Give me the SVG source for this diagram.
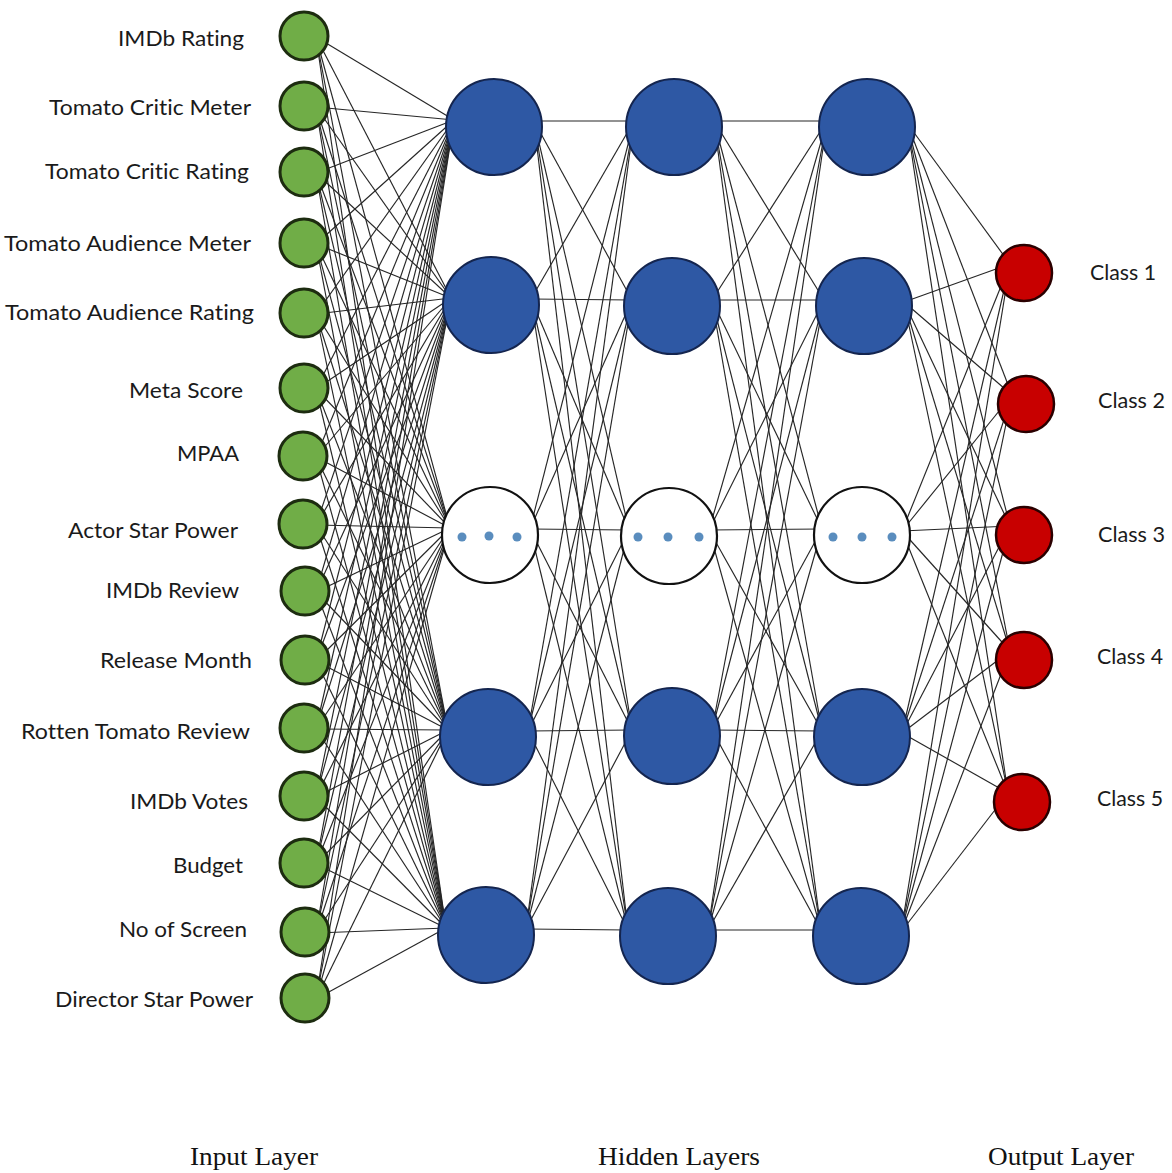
<svg xmlns="http://www.w3.org/2000/svg" width="1172" height="1173" viewBox="0 0 1172 1173">
<style>
.c{stroke:#262626;stroke-width:1.15;fill:none}
.in{fill:#70ad47;stroke:#1d2c10;stroke-width:3}
.hid{fill:#2e58a4;stroke:#14254f;stroke-width:2}
.emp{fill:#ffffff;stroke:#111111;stroke-width:2.2}
.dot{fill:#5a8dbe}
.out{fill:#c80000;stroke:#2a0000;stroke-width:2.5}
.lbl{font-family:Lato,"Open Sans","Liberation Sans",sans-serif;font-size:22px;fill:#1a1a1a;text-anchor:end;font-variant-ligatures:none}
.cls{font-family:Lato,"Open Sans","Liberation Sans",sans-serif;font-size:21px;fill:#1a1a1a}
.cap{font-family:"Liberation Serif","Times New Roman",serif;font-size:26px;fill:#111;text-anchor:middle}
</style>
<rect width="1172" height="1173" fill="#ffffff"/>
<g id="connectors">
<line class="c" x1="316" y1="37" x2="454" y2="120"/><line class="c" x1="316" y1="37" x2="451" y2="298"/><line class="c" x1="316" y1="37" x2="450" y2="528"/><line class="c" x1="316" y1="37" x2="448" y2="730"/><line class="c" x1="316" y1="37" x2="446" y2="928"/>
<line class="c" x1="316" y1="107" x2="454" y2="120"/><line class="c" x1="316" y1="107" x2="451" y2="298"/><line class="c" x1="316" y1="107" x2="450" y2="528"/><line class="c" x1="316" y1="107" x2="448" y2="730"/><line class="c" x1="316" y1="107" x2="446" y2="928"/>
<line class="c" x1="316" y1="173" x2="454" y2="120"/><line class="c" x1="316" y1="173" x2="451" y2="298"/><line class="c" x1="316" y1="173" x2="450" y2="528"/><line class="c" x1="316" y1="173" x2="448" y2="730"/><line class="c" x1="316" y1="173" x2="446" y2="928"/>
<line class="c" x1="316" y1="244" x2="454" y2="120"/><line class="c" x1="316" y1="244" x2="451" y2="298"/><line class="c" x1="316" y1="244" x2="450" y2="528"/><line class="c" x1="316" y1="244" x2="448" y2="730"/><line class="c" x1="316" y1="244" x2="446" y2="928"/>
<line class="c" x1="316" y1="314" x2="454" y2="120"/><line class="c" x1="316" y1="314" x2="451" y2="298"/><line class="c" x1="316" y1="314" x2="450" y2="528"/><line class="c" x1="316" y1="314" x2="448" y2="730"/><line class="c" x1="316" y1="314" x2="446" y2="928"/>
<line class="c" x1="316" y1="389" x2="454" y2="120"/><line class="c" x1="316" y1="389" x2="451" y2="298"/><line class="c" x1="316" y1="389" x2="450" y2="528"/><line class="c" x1="316" y1="389" x2="448" y2="730"/><line class="c" x1="316" y1="389" x2="446" y2="928"/>
<line class="c" x1="316" y1="457" x2="454" y2="120"/><line class="c" x1="316" y1="457" x2="451" y2="298"/><line class="c" x1="316" y1="457" x2="450" y2="528"/><line class="c" x1="316" y1="457" x2="448" y2="730"/><line class="c" x1="316" y1="457" x2="446" y2="928"/>
<line class="c" x1="316" y1="525" x2="454" y2="120"/><line class="c" x1="316" y1="525" x2="451" y2="298"/><line class="c" x1="316" y1="525" x2="450" y2="528"/><line class="c" x1="316" y1="525" x2="448" y2="730"/><line class="c" x1="316" y1="525" x2="446" y2="928"/>
<line class="c" x1="316" y1="592" x2="454" y2="120"/><line class="c" x1="316" y1="592" x2="451" y2="298"/><line class="c" x1="316" y1="592" x2="450" y2="528"/><line class="c" x1="316" y1="592" x2="448" y2="730"/><line class="c" x1="316" y1="592" x2="446" y2="928"/>
<line class="c" x1="316" y1="661" x2="454" y2="120"/><line class="c" x1="316" y1="661" x2="451" y2="298"/><line class="c" x1="316" y1="661" x2="450" y2="528"/><line class="c" x1="316" y1="661" x2="448" y2="730"/><line class="c" x1="316" y1="661" x2="446" y2="928"/>
<line class="c" x1="316" y1="729" x2="454" y2="120"/><line class="c" x1="316" y1="729" x2="451" y2="298"/><line class="c" x1="316" y1="729" x2="450" y2="528"/><line class="c" x1="316" y1="729" x2="448" y2="730"/><line class="c" x1="316" y1="729" x2="446" y2="928"/>
<line class="c" x1="316" y1="797" x2="454" y2="120"/><line class="c" x1="316" y1="797" x2="451" y2="298"/><line class="c" x1="316" y1="797" x2="450" y2="528"/><line class="c" x1="316" y1="797" x2="448" y2="730"/><line class="c" x1="316" y1="797" x2="446" y2="928"/>
<line class="c" x1="316" y1="864" x2="454" y2="120"/><line class="c" x1="316" y1="864" x2="451" y2="298"/><line class="c" x1="316" y1="864" x2="450" y2="528"/><line class="c" x1="316" y1="864" x2="448" y2="730"/><line class="c" x1="316" y1="864" x2="446" y2="928"/>
<line class="c" x1="316" y1="933" x2="454" y2="120"/><line class="c" x1="316" y1="933" x2="451" y2="298"/><line class="c" x1="316" y1="933" x2="450" y2="528"/><line class="c" x1="316" y1="933" x2="448" y2="730"/><line class="c" x1="316" y1="933" x2="446" y2="928"/>
<line class="c" x1="316" y1="999" x2="454" y2="120"/><line class="c" x1="316" y1="999" x2="451" y2="298"/><line class="c" x1="316" y1="999" x2="450" y2="528"/><line class="c" x1="316" y1="999" x2="448" y2="730"/><line class="c" x1="316" y1="999" x2="446" y2="928"/>
<line class="c" x1="534" y1="121" x2="634" y2="121"/><line class="c" x1="534" y1="121" x2="632" y2="300"/><line class="c" x1="534" y1="121" x2="629" y2="530"/><line class="c" x1="534" y1="121" x2="632" y2="730"/><line class="c" x1="534" y1="121" x2="628" y2="930"/>
<line class="c" x1="531" y1="299" x2="634" y2="121"/><line class="c" x1="531" y1="299" x2="632" y2="300"/><line class="c" x1="531" y1="299" x2="629" y2="530"/><line class="c" x1="531" y1="299" x2="632" y2="730"/><line class="c" x1="531" y1="299" x2="628" y2="930"/>
<line class="c" x1="530" y1="529" x2="634" y2="121"/><line class="c" x1="530" y1="529" x2="632" y2="300"/><line class="c" x1="530" y1="529" x2="629" y2="530"/><line class="c" x1="530" y1="529" x2="632" y2="730"/><line class="c" x1="530" y1="529" x2="628" y2="930"/>
<line class="c" x1="528" y1="731" x2="634" y2="121"/><line class="c" x1="528" y1="731" x2="632" y2="300"/><line class="c" x1="528" y1="731" x2="629" y2="530"/><line class="c" x1="528" y1="731" x2="632" y2="730"/><line class="c" x1="528" y1="731" x2="628" y2="930"/>
<line class="c" x1="526" y1="929" x2="634" y2="121"/><line class="c" x1="526" y1="929" x2="632" y2="300"/><line class="c" x1="526" y1="929" x2="629" y2="530"/><line class="c" x1="526" y1="929" x2="632" y2="730"/><line class="c" x1="526" y1="929" x2="628" y2="930"/>
<line class="c" x1="714" y1="121" x2="827" y2="121"/><line class="c" x1="714" y1="121" x2="824" y2="300"/><line class="c" x1="714" y1="121" x2="822" y2="529"/><line class="c" x1="714" y1="121" x2="822" y2="731"/><line class="c" x1="714" y1="121" x2="821" y2="930"/>
<line class="c" x1="712" y1="300" x2="827" y2="121"/><line class="c" x1="712" y1="300" x2="824" y2="300"/><line class="c" x1="712" y1="300" x2="822" y2="529"/><line class="c" x1="712" y1="300" x2="822" y2="731"/><line class="c" x1="712" y1="300" x2="821" y2="930"/>
<line class="c" x1="709" y1="530" x2="827" y2="121"/><line class="c" x1="709" y1="530" x2="824" y2="300"/><line class="c" x1="709" y1="530" x2="822" y2="529"/><line class="c" x1="709" y1="530" x2="822" y2="731"/><line class="c" x1="709" y1="530" x2="821" y2="930"/>
<line class="c" x1="712" y1="730" x2="827" y2="121"/><line class="c" x1="712" y1="730" x2="824" y2="300"/><line class="c" x1="712" y1="730" x2="822" y2="529"/><line class="c" x1="712" y1="730" x2="822" y2="731"/><line class="c" x1="712" y1="730" x2="821" y2="930"/>
<line class="c" x1="708" y1="930" x2="827" y2="121"/><line class="c" x1="708" y1="930" x2="824" y2="300"/><line class="c" x1="708" y1="930" x2="822" y2="529"/><line class="c" x1="708" y1="930" x2="822" y2="731"/><line class="c" x1="708" y1="930" x2="821" y2="930"/>
<line class="c" x1="907" y1="123" x2="1010" y2="264"/><line class="c" x1="907" y1="123" x2="1012" y2="395"/><line class="c" x1="907" y1="123" x2="1010" y2="526"/><line class="c" x1="907" y1="123" x2="1010" y2="651"/><line class="c" x1="907" y1="123" x2="1008" y2="793"/>
<line class="c" x1="904" y1="302" x2="1010" y2="264"/><line class="c" x1="904" y1="302" x2="1012" y2="395"/><line class="c" x1="904" y1="302" x2="1010" y2="526"/><line class="c" x1="904" y1="302" x2="1010" y2="651"/><line class="c" x1="904" y1="302" x2="1008" y2="793"/>
<line class="c" x1="902" y1="531" x2="1010" y2="264"/><line class="c" x1="902" y1="531" x2="1012" y2="395"/><line class="c" x1="902" y1="531" x2="1010" y2="526"/><line class="c" x1="902" y1="531" x2="1010" y2="651"/><line class="c" x1="902" y1="531" x2="1008" y2="793"/>
<line class="c" x1="902" y1="733" x2="1010" y2="264"/><line class="c" x1="902" y1="733" x2="1012" y2="395"/><line class="c" x1="902" y1="733" x2="1010" y2="526"/><line class="c" x1="902" y1="733" x2="1010" y2="651"/><line class="c" x1="902" y1="733" x2="1008" y2="793"/>
<line class="c" x1="901" y1="932" x2="1010" y2="264"/><line class="c" x1="901" y1="932" x2="1012" y2="395"/><line class="c" x1="901" y1="932" x2="1010" y2="526"/><line class="c" x1="901" y1="932" x2="1010" y2="651"/><line class="c" x1="901" y1="932" x2="1008" y2="793"/>
</g>
<g id="input-layer">
<g id="in1"><circle class="in" cx="304" cy="36" r="24"/><text class="lbl" x="244" y="46" textLength="126" lengthAdjust="spacingAndGlyphs">IMDb Rating</text></g>
<g id="in2"><circle class="in" cx="304" cy="106" r="24"/><text class="lbl" x="251" y="115" textLength="202" lengthAdjust="spacingAndGlyphs">Tomato Critic Meter</text></g>
<g id="in3"><circle class="in" cx="304" cy="172" r="24"/><text class="lbl" x="249" y="179" textLength="204" lengthAdjust="spacingAndGlyphs">Tomato Critic Rating</text></g>
<g id="in4"><circle class="in" cx="304" cy="243" r="24"/><text class="lbl" x="251" y="251" textLength="247" lengthAdjust="spacingAndGlyphs">Tomato Audience Meter</text></g>
<g id="in5"><circle class="in" cx="304" cy="313" r="24"/><text class="lbl" x="254" y="320" textLength="249" lengthAdjust="spacingAndGlyphs">Tomato Audience Rating</text></g>
<g id="in6"><circle class="in" cx="304" cy="388" r="24"/><text class="lbl" x="243" y="398" textLength="114" lengthAdjust="spacingAndGlyphs">Meta Score</text></g>
<g id="in7"><circle class="in" cx="303" cy="456" r="24"/><text class="lbl" x="239" y="461" textLength="62" lengthAdjust="spacingAndGlyphs">MPAA</text></g>
<g id="in8"><circle class="in" cx="303" cy="524" r="24"/><text class="lbl" x="238" y="538" textLength="170" lengthAdjust="spacingAndGlyphs">Actor Star Power</text></g>
<g id="in9"><circle class="in" cx="305" cy="591" r="24"/><text class="lbl" x="239" y="598" textLength="133" lengthAdjust="spacingAndGlyphs">IMDb Review</text></g>
<g id="in10"><circle class="in" cx="305" cy="660" r="24"/><text class="lbl" x="252" y="668" textLength="152" lengthAdjust="spacingAndGlyphs">Release Month</text></g>
<g id="in11"><circle class="in" cx="304" cy="728" r="24"/><text class="lbl" x="250" y="739" textLength="229" lengthAdjust="spacingAndGlyphs">Rotten Tomato Review</text></g>
<g id="in12"><circle class="in" cx="304" cy="796" r="24"/><text class="lbl" x="248" y="809" textLength="118" lengthAdjust="spacingAndGlyphs">IMDb Votes</text></g>
<g id="in13"><circle class="in" cx="304" cy="863" r="24"/><text class="lbl" x="243" y="873" textLength="70" lengthAdjust="spacingAndGlyphs">Budget</text></g>
<g id="in14"><circle class="in" cx="305" cy="932" r="24"/><text class="lbl" x="247" y="937" textLength="128" lengthAdjust="spacingAndGlyphs">No of Screen</text></g>
<g id="in15"><circle class="in" cx="305" cy="998" r="24"/><text class="lbl" x="253" y="1007" textLength="198" lengthAdjust="spacingAndGlyphs">Director Star Power</text></g>
</g>
<g id="hidden-layer-1">
<g id="h1a"><circle class="hid" cx="494" cy="127" r="48"/></g>
<g id="h1b"><circle class="hid" cx="491" cy="305" r="48"/></g>
<g id="h1c"><circle class="emp" cx="490" cy="535" r="48"/><circle class="dot" cx="462" cy="537" r="4.5"/><circle class="dot" cx="489" cy="536" r="4.5"/><circle class="dot" cx="517" cy="537" r="4.5"/></g>
<g id="h1d"><circle class="hid" cx="488" cy="737" r="48"/></g>
<g id="h1e"><circle class="hid" cx="486" cy="935" r="48"/></g>
</g>
<g id="hidden-layer-2">
<g id="h2a"><circle class="hid" cx="674" cy="127" r="48"/></g>
<g id="h2b"><circle class="hid" cx="672" cy="306" r="48"/></g>
<g id="h2c"><circle class="emp" cx="669" cy="536" r="48"/><circle class="dot" cx="638" cy="537" r="4.5"/><circle class="dot" cx="668" cy="537" r="4.5"/><circle class="dot" cx="699" cy="537" r="4.5"/></g>
<g id="h2d"><circle class="hid" cx="672" cy="736" r="48"/></g>
<g id="h2e"><circle class="hid" cx="668" cy="936" r="48"/></g>
</g>
<g id="hidden-layer-3">
<g id="h3a"><circle class="hid" cx="867" cy="127" r="48"/></g>
<g id="h3b"><circle class="hid" cx="864" cy="306" r="48"/></g>
<g id="h3c"><circle class="emp" cx="862" cy="535" r="48"/><circle class="dot" cx="833" cy="537" r="4.5"/><circle class="dot" cx="862" cy="537" r="4.5"/><circle class="dot" cx="892" cy="537" r="4.5"/></g>
<g id="h3d"><circle class="hid" cx="862" cy="737" r="48"/></g>
<g id="h3e"><circle class="hid" cx="861" cy="936" r="48"/></g>
</g>
<g id="output-layer">
<g id="out1"><circle class="out" cx="1024" cy="273" r="28"/><text class="cls" x="1090" y="280" textLength="66" lengthAdjust="spacingAndGlyphs">Class 1</text></g>
<g id="out2"><circle class="out" cx="1026" cy="404" r="28"/><text class="cls" x="1098" y="408" textLength="67" lengthAdjust="spacingAndGlyphs">Class 2</text></g>
<g id="out3"><circle class="out" cx="1024" cy="535" r="28"/><text class="cls" x="1098" y="542" textLength="67" lengthAdjust="spacingAndGlyphs">Class 3</text></g>
<g id="out4"><circle class="out" cx="1024" cy="660" r="28"/><text class="cls" x="1097" y="664" textLength="66" lengthAdjust="spacingAndGlyphs">Class 4</text></g>
<g id="out5"><circle class="out" cx="1022" cy="802" r="28"/><text class="cls" x="1097" y="806" textLength="66" lengthAdjust="spacingAndGlyphs">Class 5</text></g>
</g>
<g id="captions">
<text class="cap" x="254" y="1165" textLength="128" lengthAdjust="spacingAndGlyphs">Input Layer</text>
<text class="cap" x="679" y="1165" textLength="162" lengthAdjust="spacingAndGlyphs">Hidden Layers</text>
<text class="cap" x="1061" y="1165" textLength="146" lengthAdjust="spacingAndGlyphs">Output Layer</text>
</g>
</svg>
